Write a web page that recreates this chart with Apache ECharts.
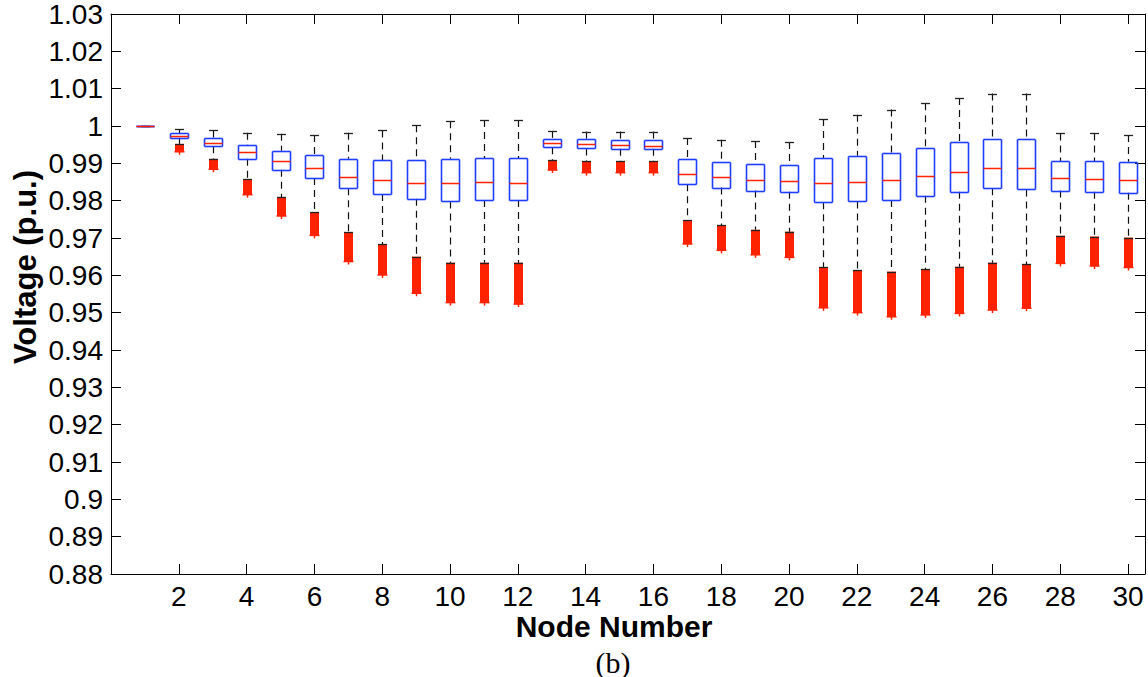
<!DOCTYPE html>
<html>
<head>
<meta charset="utf-8">
<script src="https://cdn.jsdelivr.net/npm/echarts@6/dist/echarts.min.js"></script>
<style>
html,body{margin:0;padding:0;background:#fff;}
#chart{width:1148px;height:677px;}
</style>
</head>
<body>
<div id="chart"></div>
<script>
// Node numbers
const nodes = [1,2,3,4,5,6,7,8,9,10,11,12,13,14,15,16,17,18,19,20,21,22,23,24,25,26,27,28,29,30];
// Upper whisker end
const whiskerHigh = [1.0000,0.9991,0.9988,0.9982,0.9979,0.9976,0.9982,0.9988,1.0002,1.0013,1.0016,1.0016,0.9987,0.9985,0.9985,0.9985,0.9968,0.9963,0.9960,0.9957,1.0019,1.0030,1.0044,1.0061,1.0075,1.0087,1.0087,0.9980,0.9980,0.9976];
// Upper quartile
const q3 = [1.0000,0.9981,0.9969,0.9948,0.9934,0.9921,0.9912,0.9909,0.9908,0.9912,0.9913,0.9914,0.9965,0.9965,0.9963,0.9963,0.9912,0.9904,0.9897,0.9895,0.9913,0.9920,0.9929,0.9942,0.9956,0.9965,0.9965,0.9906,0.9906,0.9904];
// Median
const median = [1.0000,0.9973,0.9954,0.9930,0.9906,0.9887,0.9864,0.9855,0.9846,0.9846,0.9850,0.9846,0.9954,0.9952,0.9948,0.9947,0.9872,0.9863,0.9855,0.9853,0.9846,0.9849,0.9855,0.9866,0.9878,0.9887,0.9887,0.9861,0.9858,0.9855];
// Lower quartile
const q1 = [1.0000,0.9968,0.9946,0.9912,0.9883,0.9861,0.9833,0.9818,0.9805,0.9798,0.9802,0.9802,0.9943,0.9940,0.9939,0.9939,0.9844,0.9835,0.9827,0.9824,0.9796,0.9798,0.9802,0.9813,0.9824,0.9833,0.9830,0.9827,0.9824,0.9821];
// Lower whisker end
const whiskerLow = [1.0000,0.9952,0.9912,0.9857,0.9810,0.9769,0.9715,0.9684,0.9650,0.9634,0.9634,0.9634,0.9909,0.9906,0.9906,0.9906,0.9748,0.9734,0.9722,0.9717,0.9621,0.9613,0.9610,0.9616,0.9623,0.9634,0.9630,0.9706,0.9704,0.9701];
// Lowest outlier
const outlierMin = [1.0000,0.9931,0.9884,0.9816,0.9759,0.9707,0.9637,0.9601,0.9552,0.9527,0.9527,0.9523,0.9882,0.9875,0.9875,0.9875,0.9684,0.9667,0.9655,0.9648,0.9513,0.9500,0.9489,0.9494,0.9498,0.9507,0.9512,0.9632,0.9625,0.9621];
// Tick labels
const xTickLabels = ['2','4','6','8','10','12','14','16','18','20','22','24','26','28','30'];
const yTickLabels = ['0.88','0.89','0.9','0.91','0.92','0.93','0.94','0.95','0.96','0.97','0.98','0.99','1','1.01','1.02','1.03'];

const BLUE = '#1f3dff';
const RED = '#ff2200';
const FONT = '"Liberation Sans", Arial, Helvetica, sans-serif';

const boxData = nodes.map((n, i) => [n, whiskerLow[i], q1[i], median[i], q3[i], whiskerHigh[i], outlierMin[i]]);

function seg(x1, y1, x2, y2, color, w, dash) {
  const st = {stroke: color, lineWidth: w, fill: null};
  if (dash) st.lineDash = dash;
  return {type:'line', shape:{x1, y1, x2, y2}, style: st};
}

function renderBox(params, api) {
  const x = api.value(0);
  const p = k => api.coord([x, api.value(k)]);
  const lo = p(1), b1 = p(2), md = p(3), b3 = p(4), hi = p(5), om = p(6);
  const cx = Math.round(lo[0]) + 0.5;
  const hw = 9, cw = 4.5, ow = 4.5;
  const r = v => Math.round(v) + 0.5;
  const children = [];
  // outliers block
  if (om[1] - lo[1] > 0.5) {
    children.push({type:'rect', shape:{x:cx-ow, y:lo[1], width:ow*2, height:om[1]-lo[1]}, style:{fill:RED}});
    children.push(seg(cx-5, om[1], cx+5, om[1], RED, 1.5));
    children.push(seg(cx, om[1]-4, cx, om[1]+3, RED, 1.5));
  }
  // whiskers (dashed)
  if (b3[1] - hi[1] > 0.5) children.push(seg(cx, hi[1], cx, b3[1], '#111', 1.2, [7,5]));
  if (lo[1] - b1[1] > 0.5) children.push(seg(cx, b1[1], cx, lo[1], '#111', 1.2, [7,5]));
  // caps
  children.push(seg(cx-cw, r(hi[1]), cx+cw, r(hi[1]), '#222', 1.3));
  children.push(seg(cx-cw, r(lo[1]), cx+cw, r(lo[1]), '#222', 1.3));
  // box edges
  const yt = r(b3[1]), yb = r(b1[1]);
  const bw = 1.6;
  children.push(seg(cx-hw, yt, cx+hw, yt, BLUE, bw));
  children.push(seg(cx-hw, yb, cx+hw, yb, BLUE, bw));
  children.push(seg(cx-hw, yt, cx-hw, yb, BLUE, bw));
  children.push(seg(cx+hw, yt, cx+hw, yb, BLUE, bw));
  // median
  children.push(seg(cx-hw, r(md[1]), cx+hw, r(md[1]), RED, 1.5));
  return {type:'group', children};
}

const chart = echarts.init(document.getElementById('chart'), null, {renderer:'svg'});
const axisCommon = {
  type:'value', min:0, max:30.5, interval:2,
  axisLine:{show:true, onZero:false, lineStyle:{color:'#000', width:1}},
  axisTick:{show:true, inside:true, length:10, lineStyle:{color:'#000'}},
  splitLine:{show:false}
};
chart.setOption({
  animation:false,
  backgroundColor:'#fff',
  grid:{left:111, top:14, right:-5, bottom:103, containLabel:false},
  xAxis:[
    Object.assign({}, axisCommon, {position:'bottom',
      axisLabel:{show:true, fontSize:28, color:'#000', fontFamily:FONT, margin:8, hideOverlap:false,
        formatter: v => { const s = String(Math.round(v)); return (Math.abs(v - Math.round(v)) < 1e-6 && xTickLabels.indexOf(s) >= 0) ? s : ''; }}}),
    Object.assign({}, axisCommon, {position:'top', axisLabel:{show:false}})
  ],
  yAxis:[
    {type:'value', min:0.88, max:1.03, interval:0.01, position:'left',
     axisLine:{show:true, onZero:false, lineStyle:{color:'#000'}},
     axisTick:{show:true, inside:true, length:10, lineStyle:{color:'#000'}},
     splitLine:{show:false},
     axisLabel:{fontSize:28, color:'#000', fontFamily:FONT, margin:8,
       formatter: v => { const s = String(parseFloat(v.toFixed(2))); return yTickLabels.indexOf(s) >= 0 ? s : ''; }}},
    {type:'value', min:0.88, max:1.03, interval:0.01, position:'right',
     axisLine:{show:true, onZero:false, lineStyle:{color:'#000'}},
     axisTick:{show:true, inside:true, length:10, lineStyle:{color:'#000'}},
     splitLine:{show:false}, axisLabel:{show:false}}
  ],
  series:[{
    type:'custom', xAxisIndex:0, yAxisIndex:0,
    data: boxData,
    encode:{x:0, y:[1,2,3,4,5,6]},
    renderItem: renderBox,
    clip:false
  }],
  graphic:[
    {type:'text', x:25, y:267, rotation:Math.PI/2,
     style:{text:'Voltage (p.u.)', font:'bold 31px ' + FONT, fill:'#000', textAlign:'center', textVerticalAlign:'middle'}},
    {type:'text', x:614, y:626,
     style:{text:'Node Number', font:'bold 30px ' + FONT, fill:'#000', textAlign:'center', textVerticalAlign:'middle'}},
    {type:'text', x:613, y:662,
     style:{text:'(b)', font:'30px "Liberation Serif", "Times New Roman", serif', fill:'#000', textAlign:'center', textVerticalAlign:'middle'}}
  ]
});
</script>
</body>
</html>
